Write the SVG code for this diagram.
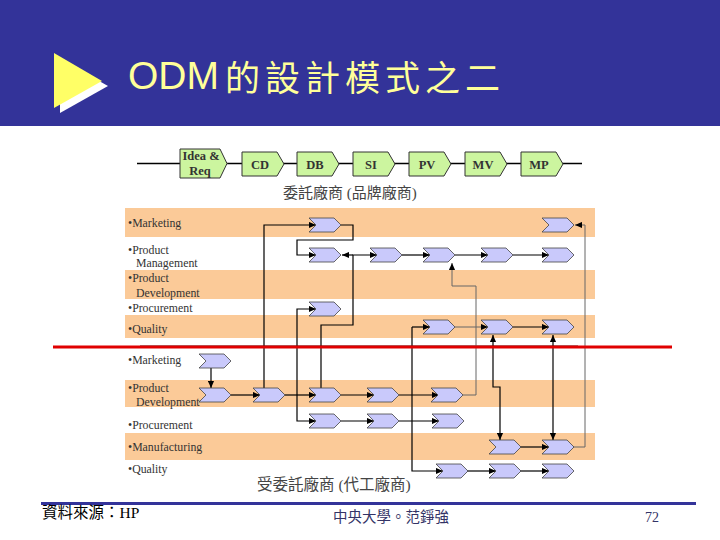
<svg xmlns="http://www.w3.org/2000/svg" xmlns:xlink="http://www.w3.org/1999/xlink" width="720" height="540" viewBox="0 0 720 540">
<style>
.band{fill:#fbca98}
.lbl{font-family:"Liberation Serif","Times New Roman",serif;font-size:11.8px;fill:#333}
.ph{fill:#ccf59f;stroke:#333;stroke-width:1}
.pht{font-family:"Liberation Serif","Times New Roman",serif;font-size:12.5px;font-weight:bold;fill:#333;text-anchor:middle}
.ch{fill:#c9c9fb;stroke:#444;stroke-width:0.8}
.cn{fill:none;stroke:#000;stroke-width:1.2}
.cg{fill:none;stroke:#666;stroke-width:1}
.cjk{font-family:"Liberation Serif","Noto Sans CJK TC",serif}
</style>
<defs>
<path id="chev" d="M0,-7 H25 L32,0 L25,7 H0 L7,0 Z"/>
<marker id="ah" viewBox="0 0 8 8" refX="8" refY="4" markerWidth="7" markerHeight="7" markerUnits="userSpaceOnUse" orient="auto-start-reverse">
<path d="M0,0.5 L8,4 L0,7.5 Z" fill="#000"/>
</marker>
</defs>
<rect x="0" y="0" width="720" height="540" fill="#fff"/>
<g id="title">
<rect x="0" y="0" width="720" height="126" fill="#333399"/>
<polygon points="60,59 60,113 108,86" fill="#ffffff"/>
<polygon points="54,53 54,108 102,81" fill="#ffff66"/>
<text x="128" y="89" font-family="Liberation Sans,Arial,sans-serif" font-size="39" fill="#ffff99">ODM</text>
<text x="225" y="91" font-family="'Noto Sans CJK TC',sans-serif" font-size="35" letter-spacing="5" fill="#ffff99">的設計模式之二</text>
</g>
<g id="phase-bar">
<line x1="137" y1="163.5" x2="582" y2="163.5" stroke="#000" stroke-width="1.5"/>
<g id="phase-idea"><path class="ph" d="M180,149 H220 L227,163.5 L220,178 H180 Z"/><text class="pht" x="201" y="160" font-size="13">Idea &amp;</text><text class="pht" x="200" y="175" font-size="13">Req</text></g>
<g id="phase-cd"><path class="ph" d="M242,152 H277 L284,164 L277,176 H242 Z"/><text class="pht" x="260" y="168.5">CD</text></g>
<g id="phase-db"><path class="ph" d="M297,152 H332 L339,164 L332,176 H297 Z"/><text class="pht" x="315" y="168.5">DB</text></g>
<g id="phase-si"><path class="ph" d="M353,152 H388 L395,164 L388,176 H353 Z"/><text class="pht" x="371" y="168.5">SI</text></g>
<g id="phase-pv"><path class="ph" d="M409,152 H444 L451,164 L444,176 H409 Z"/><text class="pht" x="427" y="168.5">PV</text></g>
<g id="phase-mv"><path class="ph" d="M465,152 H500 L507,164 L500,176 H465 Z"/><text class="pht" x="483" y="168.5">MV</text></g>
<g id="phase-mp"><path class="ph" d="M521,152 H556 L563,164 L556,176 H521 Z"/><text class="pht" x="539" y="168.5">MP</text></g>
</g>
<text class="cjk" x="283" y="198" font-size="15" fill="#444">委託廠商 (品牌廠商)</text>
<g id="lanes">
<rect class="band" x="125" y="208" width="470" height="29"/>
<rect class="band" x="125" y="270" width="470" height="29"/>
<rect class="band" x="125" y="315" width="470" height="23"/>
<rect class="band" x="125" y="380" width="470" height="27"/>
<rect class="band" x="125" y="433" width="470" height="27"/>
<line x1="140" y1="345.5" x2="578" y2="345.5" stroke="#999" stroke-width="1"/>
</g>
<g id="lane-labels">
<text class="lbl" x="128" y="227">•Marketing</text>
<text class="lbl" x="128" y="254">•Product</text>
<text class="lbl" x="136" y="267">Management</text>
<text class="lbl" x="128" y="282">•Product</text>
<text class="lbl" x="136" y="297">Development</text>
<text class="lbl" x="128" y="312">•Procurement</text>
<text class="lbl" x="128" y="333">•Quality</text>
<text class="lbl" x="128" y="364">•Marketing</text>
<text class="lbl" x="128" y="392">•Product</text>
<text class="lbl" x="136" y="406">Development</text>
<text class="lbl" x="128" y="429">•Procurement</text>
<text class="lbl" x="128" y="451">•Manufacturing</text>
<text class="lbl" x="128" y="473">•Quality</text>
</g>
<g id="connectors">
<path class="cn" d="M264,388 V225 H316" marker-end="url(#ah)"/>
<path class="cn" d="M341,225 H353 V240 H297 V255 H316" marker-end="url(#ah)"/>
<path class="cn" d="M321,388 V325 H353 V255 H377" marker-end="url(#ah)"/>
<path class="cn" d="M353,255 H342" marker-end="url(#ah)"/>
<path class="cn" d="M402,255 H430" marker-end="url(#ah)"/>
<path class="cn" d="M455,255 H488" marker-end="url(#ah)"/>
<path class="cn" d="M513,255 H549" marker-end="url(#ah)"/>
<path class="cg" d="M463,395 H476 V286 H452 V263" marker-end="url(#ah)"/>
<path class="cn" d="M297,395 V309 H316" marker-end="url(#ah)"/>
<path class="cn" d="M297,395 V421 H316" marker-end="url(#ah)"/>
<path class="cn" d="M211,368 V388" marker-end="url(#ah)"/>
<path class="cn" d="M231,395 H260" marker-end="url(#ah)"/>
<path class="cn" d="M285,395 H316" marker-end="url(#ah)"/>
<path class="cn" d="M341,395 H374" marker-end="url(#ah)"/>
<path class="cn" d="M399,395 H439" marker-end="url(#ah)"/>
<path class="cn" d="M341,421 H374" marker-end="url(#ah)"/>
<path class="cn" d="M399,421 H439" marker-end="url(#ah)"/>
<path class="cn" d="M412,327 H430" marker-end="url(#ah)"/>
<path class="cn" d="M412,327 V471 H443" marker-end="url(#ah)"/>
<path class="cg" d="M455,327 H488" marker-end="url(#ah)"/>
<path class="cn" d="M513,327 H549" marker-end="url(#ah)"/>
<path class="cn" d="M493,335 V387 H500 V440" marker-start="url(#ah)" marker-end="url(#ah)"/>
<path class="cn" d="M553,335 V440" marker-start="url(#ah)" marker-end="url(#ah)"/>
<path class="cn" d="M520,447 H549" stroke-width="2" marker-end="url(#ah)"/>
<path class="cg" d="M573,447 H585 V225 H575" stroke="#7a5a40" marker-end="url(#ah)"/>
<path class="cn" d="M467,471 H496" marker-end="url(#ah)"/>
<path class="cn" d="M520,471 H549" marker-end="url(#ah)"/>
</g>
<g id="nodes">
<g id="u-mkt1"><use class="ch" href="#chev" x="309" y="225"/></g>
<g id="u-mkt2"><use class="ch" href="#chev" x="542" y="225"/></g>
<g id="u-pm1"><use class="ch" href="#chev" x="309" y="255"/></g>
<g id="u-pm2"><use class="ch" href="#chev" x="370" y="255"/></g>
<g id="u-pm3"><use class="ch" href="#chev" x="423" y="255"/></g>
<g id="u-pm4"><use class="ch" href="#chev" x="481" y="255"/></g>
<g id="u-pm5"><use class="ch" href="#chev" x="542" y="255"/></g>
<g id="u-proc1"><use class="ch" href="#chev" x="309" y="309"/></g>
<g id="u-q1"><use class="ch" href="#chev" x="423" y="327"/></g>
<g id="u-q2"><use class="ch" href="#chev" x="481" y="327"/></g>
<g id="u-q3"><use class="ch" href="#chev" x="542" y="327"/></g>
<g id="l-mkt1"><use class="ch" href="#chev" x="199" y="361"/></g>
<g id="l-pd1"><use class="ch" href="#chev" x="199" y="395"/></g>
<g id="l-pd2"><use class="ch" href="#chev" x="253" y="395"/></g>
<g id="l-pd3"><use class="ch" href="#chev" x="309" y="395"/></g>
<g id="l-pd4"><use class="ch" href="#chev" x="367" y="395"/></g>
<g id="l-pd5"><use class="ch" href="#chev" x="431" y="395"/></g>
<g id="l-proc1"><use class="ch" href="#chev" x="309" y="421"/></g>
<g id="l-proc2"><use class="ch" href="#chev" x="367" y="421"/></g>
<g id="l-proc3"><use class="ch" href="#chev" x="432" y="421"/></g>
<g id="l-mfg1"><use class="ch" href="#chev" x="489" y="447"/></g>
<g id="l-mfg2"><use class="ch" href="#chev" x="542" y="447"/></g>
<g id="l-q1"><use class="ch" href="#chev" x="436" y="471"/></g>
<g id="l-q2"><use class="ch" href="#chev" x="489" y="471"/></g>
<g id="l-q3"><use class="ch" href="#chev" x="542" y="471"/></g>
</g>
<line x1="53" y1="347" x2="672" y2="347" stroke="#e00000" stroke-width="3"/>
<text class="cjk" x="257" y="490" font-size="15.5" fill="#444">受委託廠商 (代工廠商)</text>
<g id="footer">
<rect x="41" y="502" width="655" height="3" fill="#333399"/>
<text class="cjk" x="42" y="518" font-size="15.5" fill="#000">資料來源：HP</text>
<text class="cjk" x="391" y="522" font-size="14.5" fill="#333366" text-anchor="middle">中央大學。范錚強</text>
<text x="652" y="522" font-family="Liberation Serif,serif" font-size="14" fill="#333366" text-anchor="middle">72</text>
</g>
</svg>
